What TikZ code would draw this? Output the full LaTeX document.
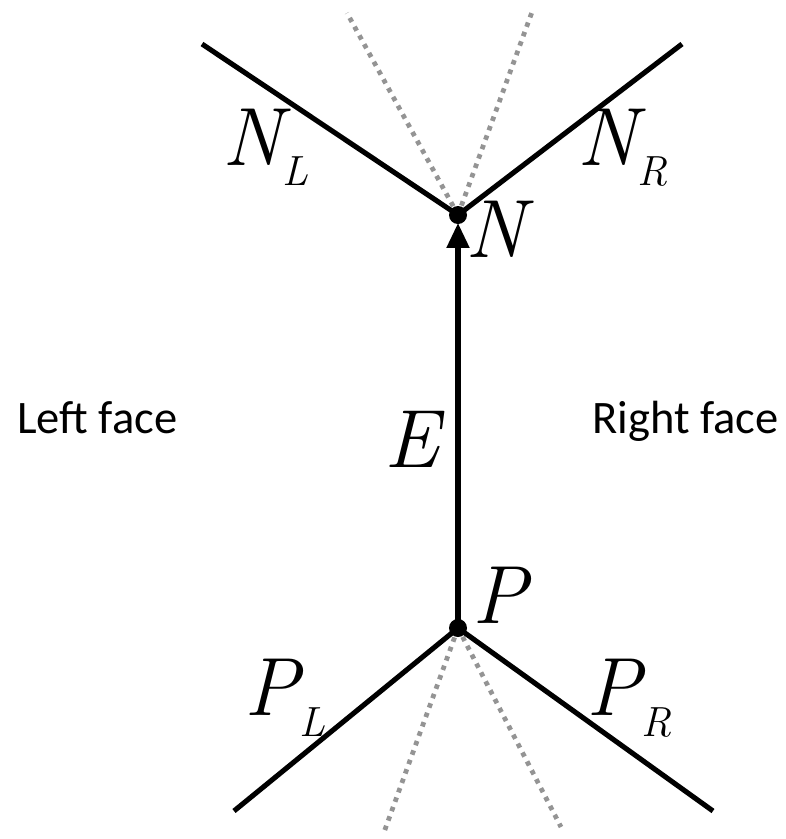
\documentclass[tikz,border=0pt]{standalone}
\usepackage{fontspec}
\newfontfamily\facefont{Carlito}
\usetikzlibrary{arrows.meta}
\newcommand{\sublbl}[2]{#1\raisebox{-0.42cm}{\fontsize{24}{24}\selectfont #2}}

\begin{document}
\begin{tikzpicture}[x=0.02cm, y=-0.02cm, >={Triangle[length=0.5cm,width=0.44cm]},
  seg/.style={line width=2.9pt},
  extline/.style={line width=2.7pt, black!42, dash pattern=on 2.6pt off 3.1pt},
  lbl/.style={font=\rmfamily\itshape\fontsize{47}{47}\selectfont, inner sep=0pt, anchor=base west},
  face/.style={font=\facefont\fontsize{26.5}{26.5}\selectfont, inner sep=0pt, anchor=base west}]
\useasboundingbox (0,0) rectangle (786,839);
\coordinate (N) at (458,215);
\coordinate (P) at (458,628);
\coordinate (NL) at (202,44);
\coordinate (NR) at (682,44);
\coordinate (PL) at (234,811);
\coordinate (PR) at (713,811);
% dotted continuations
\coordinate (NLx) at (347,13);
\coordinate (NRx) at (532,12);
\coordinate (PLx) at (383,835);
\coordinate (PRx) at (561,827);
\draw[extline] (N)--(NLx) (N)--(NRx);
\draw[extline] (P)--(PLx) (P)--(PRx);
% edges
\draw[seg] (NL)--(N)--(NR);
\draw[seg] (PL)--(P)--(PR);
\draw[seg,->,shorten >=0.16cm] (P)--(N);
\fill (N) circle[radius=0.18cm];
\fill (P) circle[radius=0.18cm];
% labels
\node[lbl] (nl) at (222,165) {\sublbl{N}{L}};
\node[lbl] (nr) at (577,165) {\sublbl{N}{R}};
\node[lbl] (n) at (465,257) {N};
\node[lbl] (e) at (384,467) {E};
\node[lbl] (p) at (472,623) {P};
\node[lbl] (pl) at (244,715) {\sublbl{P}{L}};
\node[lbl] (pr) at (586,715) {\sublbl{P}{R}};
\node[face] (lf) at (17,433) {Left face};
\node[face] (rf) at (592,433) {Right face};
\end{tikzpicture}
\end{document}
